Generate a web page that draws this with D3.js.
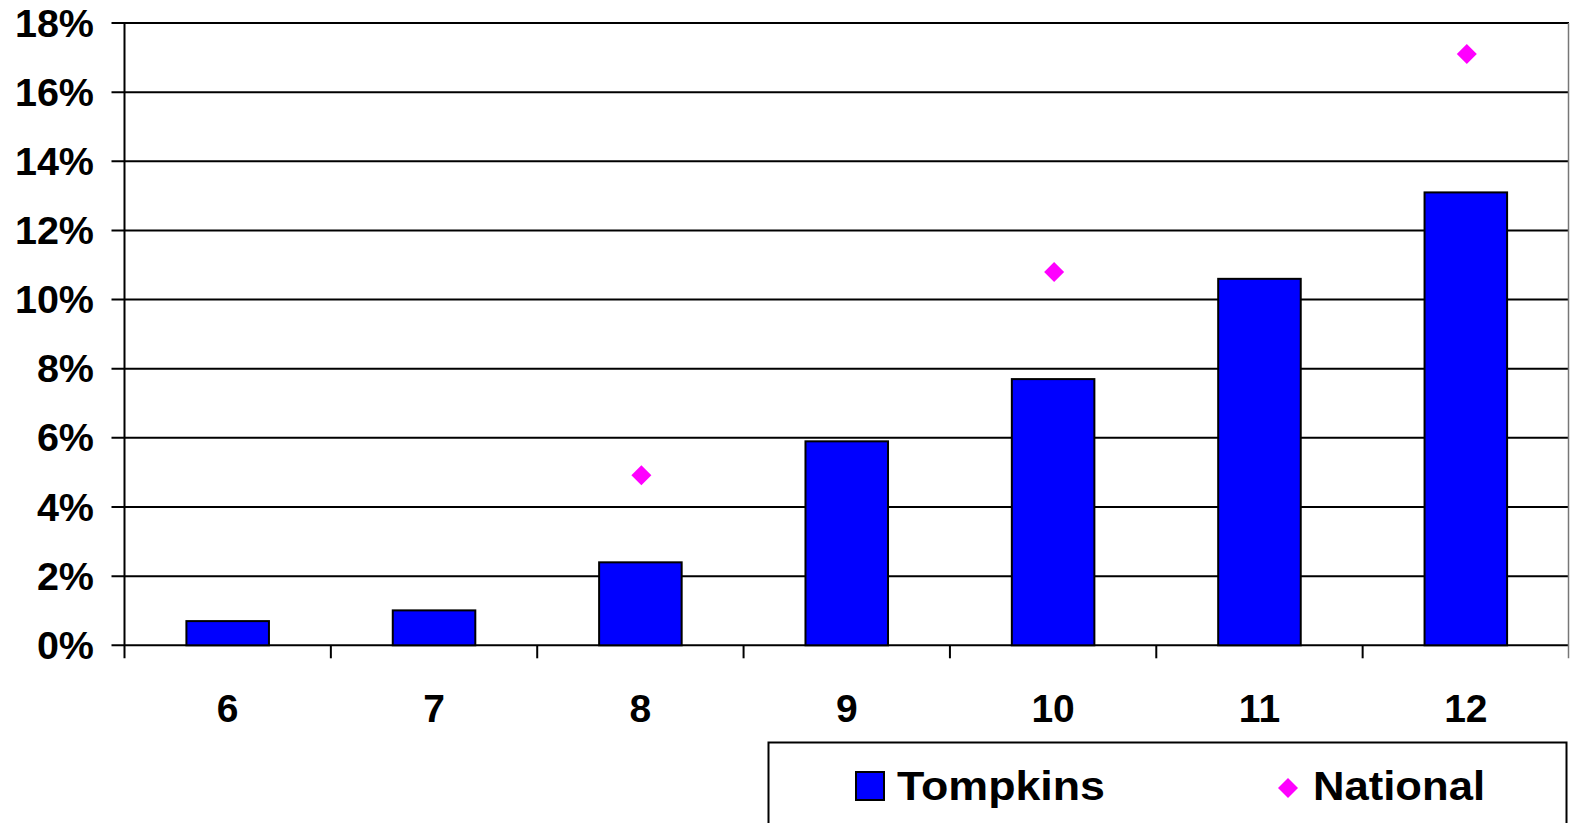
<!DOCTYPE html>
<meta charset="utf-8">
<script src="https://d3js.org/d3.v7.min.js"></script>
<style>
  body { margin: 0; background: #fff; }
  text { font-family: "Liberation Sans", Arial, sans-serif; font-weight: bold; fill: #000; }
</style>
<div id="chart"></div>
<script>
    // data
    const grades = ["6", "7", "8", "9", "10", "11", "12"];
    const tompkins = [0.70, 1.01, 2.40, 5.90, 7.70, 10.6, 13.1];
    const national = [null, null, 4.92, null, 10.8, null, 17.1];
    const yTicks = [0, 2, 4, 6, 8, 10, 12, 14, 16, 18];

    const W = 1570, H = 823;
    const plot = {left: 124.5, right: 1569, top: 23, bottom: 645.3};

    const svg = d3.select("#chart").append("svg")
        .attr("width", W).attr("height", H);

    const x = d3.scaleBand().domain(grades).range([plot.left, plot.right]);
    const y = d3.scaleLinear().domain([0, 18]).range([plot.bottom, plot.top]);

    // gridlines + y ticks
    svg.append("g").selectAll("line")
        .data(yTicks)
        .join("line")
            .attr("x1", plot.left - 13).attr("x2", plot.right)
            .attr("y1", d => y(d)).attr("y2", d => y(d))
            .style("stroke", "#000").style("stroke-width", 2);

    svg.append("g").selectAll("text")
        .data(yTicks)
        .join("text")
            .attr("x", 94).attr("y", d => y(d) + 13.5)
            .attr("text-anchor", "end")
            .style("font-size", "39.5px")
            .text(d => d + "%");

    // bars
    const barW = x.bandwidth() * 0.4;
    svg.append("g").selectAll("rect")
        .data(tompkins)
        .join("rect")
            .attr("x", (d, i) => x(grades[i]) + x.bandwidth() / 2 - barW / 2)
            .attr("y", d => y(d))
            .attr("width", barW)
            .attr("height", d => y(0) - y(d))
            .style("fill", "#0000ff").style("stroke", "#000").style("stroke-width", 2);

    // axes lines
    svg.append("line")
        .attr("x1", plot.left).attr("x2", plot.left)
        .attr("y1", plot.top).attr("y2", plot.bottom + 13)
        .style("stroke", "#000").style("stroke-width", 2);
    svg.append("line")
        .attr("x1", plot.right - 0.5).attr("x2", plot.right - 0.5)
        .attr("y1", plot.top).attr("y2", plot.bottom + 13)
        .style("stroke", "#777").style("stroke-width", 1.5);

    // x ticks between categories
    svg.append("g").selectAll("line")
        .data(grades.slice(1))
        .join("line")
            .attr("x1", d => x(d)).attr("x2", d => x(d))
            .attr("y1", plot.bottom).attr("y2", plot.bottom + 13)
            .style("stroke", "#000").style("stroke-width", 2);

    svg.append("g").selectAll("text")
        .data(grades)
        .join("text")
            .attr("x", d => x(d) + x.bandwidth() / 2)
            .attr("y", 722)
            .attr("text-anchor", "middle")
            .style("font-size", "39px")
            .text(d => d);

    // national diamonds
    const diamond = d3.symbol().type(d3.symbolSquare).size(200);
    svg.append("g").selectAll("path")
        .data(national.map((v, i) => ({v, g: grades[i]})).filter(d => d.v !== null))
        .join("path")
            .attr("d", diamond)
            .attr("transform", d => `translate(${x(d.g) + x.bandwidth() / 2 + 1},${y(d.v)}) rotate(45)`)
            .style("fill", "#ff00ff");

    // legend
    const lg = svg.append("g");
    lg.append("rect")
        .attr("x", 768.5).attr("y", 742.5).attr("width", 798).attr("height", 100)
        .style("fill", "#fff").style("stroke", "#000").style("stroke-width", 2);
    lg.append("rect")
        .attr("x", 856).attr("y", 772).attr("width", 28).attr("height", 28)
        .style("fill", "#0000ff").style("stroke", "#000").style("stroke-width", 2);
    lg.append("text").attr("x", 897).attr("y", 800).style("font-size", "40px")
        .attr("textLength", 208).attr("lengthAdjust", "spacingAndGlyphs").text("Tompkins");
    lg.append("path")
        .attr("d", diamond)
        .attr("transform", "translate(1288,788) rotate(45)")
        .style("fill", "#ff00ff");
    lg.append("text").attr("x", 1313).attr("y", 800).style("font-size", "40px")
        .attr("textLength", 172).attr("lengthAdjust", "spacingAndGlyphs").text("National");
</script>
